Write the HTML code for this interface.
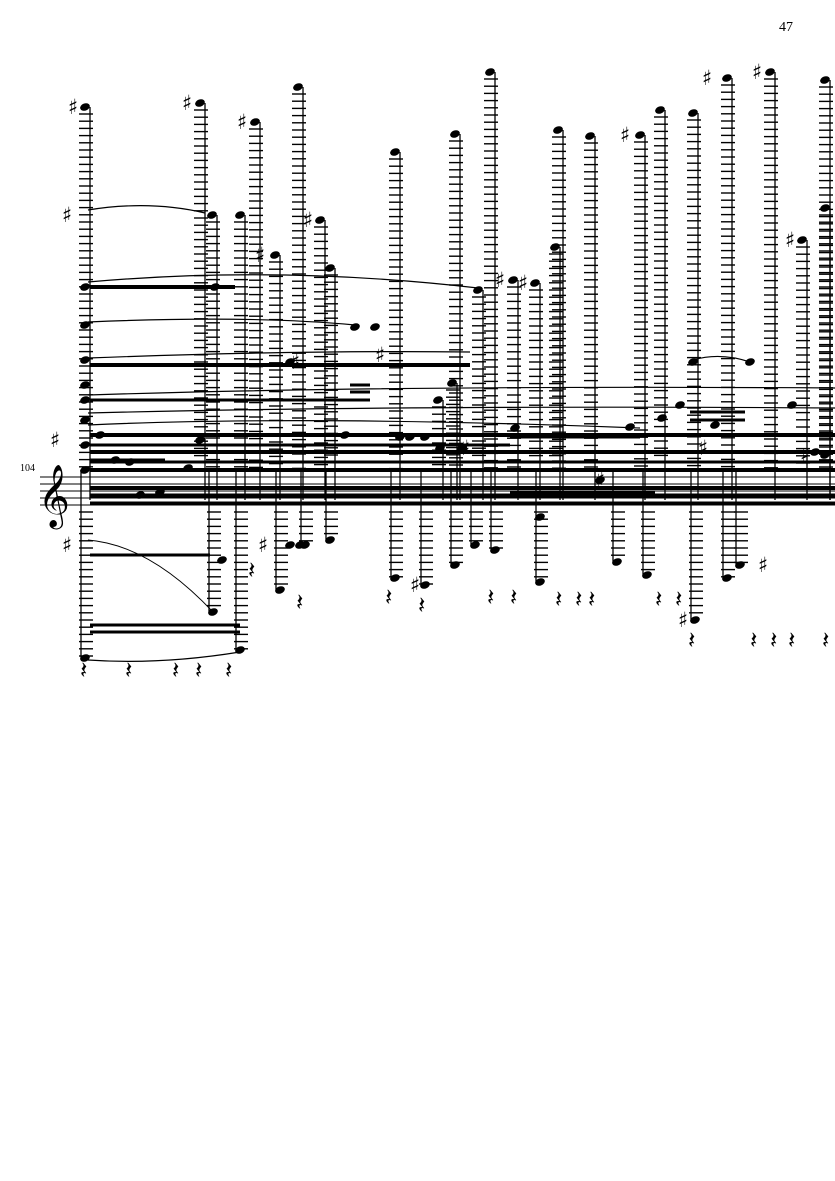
<!DOCTYPE html>
<html><head><meta charset="utf-8"><style>
html,body{margin:0;padding:0;background:#fff;}
svg{display:block;}
</style></head><body>
<svg id="s" width="835" height="1181" viewBox="0 0 835 1181" xmlns="http://www.w3.org/2000/svg">
<text x="779" y="31" font-family="Liberation Serif, serif" font-size="14">47</text>
<text x="20" y="471" font-family="Liberation Serif, serif" font-size="10">104</text>
<text x="38" y="514" font-family="DejaVu Serif, serif" font-size="54">𝄞</text>
</svg>
<script>
var s=document.getElementById('s'),NS='http://www.w3.org/2000/svg';
function el(t,a){var e=document.createElementNS(NS,t);for(var k in a)e.setAttribute(k,a[k]);s.appendChild(e);return e;}
function line(x1,y1,x2,y2,w){el('line',{x1:x1,y1:y1,x2:x2,y2:y2,stroke:'#000','stroke-width':w||1});}
function head(x,y){el('ellipse',{cx:x,cy:y,rx:5,ry:3.6,fill:'#000',transform:'rotate(-20 '+x+' '+y+')'});}
function sharp(x,y){var t=el('text',{x:x-2,y:y+7,'font-family':'DejaVu Sans, sans-serif','font-size':'21','font-weight':'bold'});t.textContent='♯';}
function rest(x,y){var t=el('text',{x:x,y:y,'font-family':'DejaVu Sans, sans-serif','font-size':'24'});t.textContent='𝄽';}
for(var i=0;i<5;i++)line(40,477+i*7,835,477+i*7,1);
var up=[[85,107],[200,103],[255,122],[298,87],[395,152],[455,134],[490,72],[558,130],[590,136],[640,135],[660,110],[693,113],[727,78],[770,72],[825,80],[212,215],[240,215],[275,255],[330,268],[320,220],[478,290],[513,280],[535,283],[802,240],[825,208],[555,247],[438,400],[452,383]];
up.forEach(function(c){var x=c[0],t=c[1];
 for(var y=t+7;y<470;y+=7.2)line(x-6,y,x+8,y,1.4);
 line(x+5,t,x+5,500,1.3);head(x,t);});
var dn=[[85,658],[395,578],[280,590],[330,540],[425,585],[455,565],[475,545],[495,550],[540,582],[617,562],[647,575],[695,620],[727,578],[740,565],[213,612],[240,650],[305,545]];
dn.forEach(function(c){var x=c[0],b=c[1];
 for(var y=512;y<b;y+=7.2)line(x-6,y,x+8,y,1.4);
 line(x-4,470,x-4,b,1.3);head(x,b);});
[[78,107],[192,103],[247,122],[313,220],[72,215],[505,280],[528,283],[712,78],[762,72],[795,240],[265,255],[72,545],[268,545],[420,585],[300,362],[385,355],[470,448],[708,448],[768,565],[630,135],[688,620],[605,480],[810,455],[60,440]].forEach(function(p){sharp(p[0]-8,p[1]);});
function arc(d,w){el('path',{d:d,fill:'none',stroke:'#000','stroke-width':w||1.2});}
arc('M88 210 Q150 200 205 213');arc('M88 282 Q280 265 478 288');arc('M88 322 Q250 315 355 325');
arc('M88 358 Q300 350 470 352');arc('M88 395 Q400 385 835 388');arc('M88 413 Q400 405 835 408');
arc('M88 425 Q300 415 640 428');arc('M88 540 Q150 545 213 612',1);arc('M88 660 Q160 665 240 652');
arc('M693 360 Q720 352 750 362');
[[90,287,235,4],[90,365,470,4],[90,400,370,3],[90,435,835,4],[90,445,510,3],[90,452,835,4],[90,462,835,3],[90,470,835,4],[90,488,835,4],[90,496,835,5],[90,503,835,3],[90,555,210,3],[90,625,240,3],[90,632,240,3],[510,437,640,3],[690,412,745,3],[690,420,745,3],[350,385,370,3],[350,392,370,3],[90,460,165,3],[510,493,655,3]].forEach(function(b){line(b[0],b[1],b[2],b[1],b[3]);});
[[85,287],[85,325],[85,360],[85,385],[85,400],[85,420],[85,445],[85,470],[100,435],[115,460],[130,462],[140,495],[160,492],[188,468],[200,440],[215,287],[290,362],[345,435],[355,327],[375,327],[400,437],[410,437],[425,437],[440,448],[462,448],[515,428],[540,517],[600,480],[630,427],[662,418],[680,405],[693,362],[715,425],[750,362],[792,405],[815,452],[825,455],[222,560],[290,545],[300,545]].forEach(function(p){head(p[0],p[1]);});
[[80,678],[125,678],[172,678],[195,678],[225,678],[385,605],[418,613],[487,605],[510,605],[555,607],[575,607],[588,607],[655,607],[675,607],[688,648],[750,648],[770,648],[788,648],[822,648],[248,578],[296,610]].forEach(function(p){rest(p[0],p[1]);});
</script>
</body></html>
